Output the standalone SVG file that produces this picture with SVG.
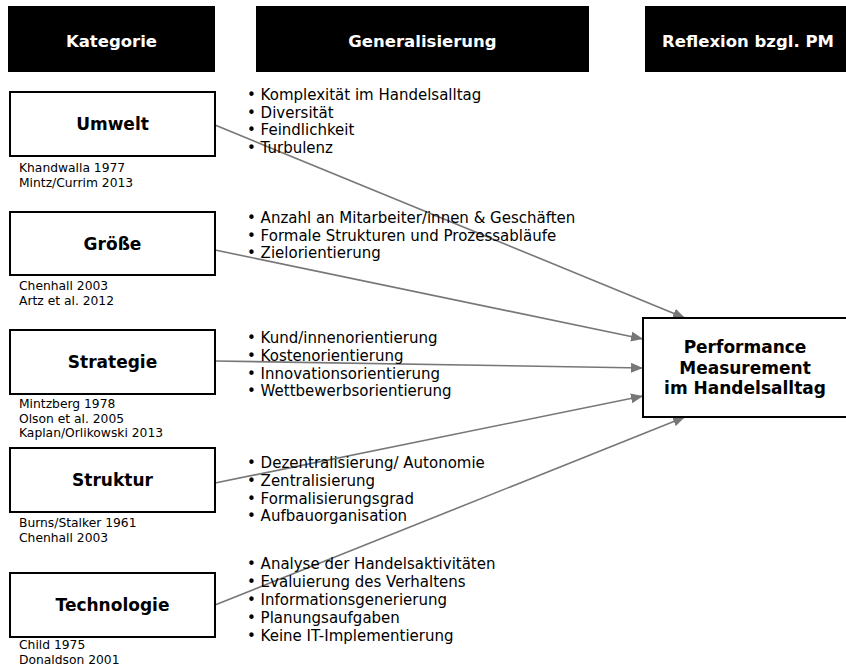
<svg xmlns="http://www.w3.org/2000/svg" width="846" height="669" viewBox="0 0 846 669">
<style>
.hdr{fill:#000}
.hdrt{fill:#fff;font-family:"DejaVu Sans",Verdana,sans-serif;font-weight:bold;font-size:16.5px;text-anchor:middle}
.box{fill:#fff;stroke:#000;stroke-width:2}
.lbl{fill:#000;font-family:"DejaVu Sans",Verdana,sans-serif;font-weight:bold;font-size:17px;text-anchor:middle}
.cit{fill:#000;font-family:"DejaVu Sans",Verdana,sans-serif;font-size:12.3px}
.bul{fill:#000;font-family:"DejaVu Sans",Verdana,sans-serif;font-size:15px}
.con{stroke:#777;stroke-width:1.6;fill:none;marker-end:url(#ah)}
</style>
<defs>
<marker id="ah" viewBox="0 0 12 10" refX="12" refY="5" markerWidth="12" markerHeight="10" markerUnits="userSpaceOnUse" orient="auto">
<path d="M0,0 L12,5 L0,10 Z" fill="#777"/>
</marker>
</defs>
<rect width="846" height="669" fill="#fff"/>

<g id="header-kategorie"><rect class="hdr" x="8" y="6" width="207" height="66"/><text class="hdrt" x="111.5" y="47">Kategorie</text></g>
<g id="header-generalisierung"><rect class="hdr" x="256" y="6" width="333" height="66"/><text class="hdrt" x="422.5" y="47">Generalisierung</text></g>
<g id="header-reflexion"><rect class="hdr" x="645" y="6" width="210" height="66"/><text class="hdrt" x="748" y="47">Reflexion bzgl. PM</text></g>

<g id="connectors">
<line class="con" x1="215" y1="125" x2="685" y2="318"/>
<line class="con" x1="215" y1="250" x2="643" y2="339"/>
<line class="con" x1="215" y1="361" x2="643" y2="368"/>
<line class="con" x1="215" y1="483" x2="643" y2="396"/>
<line class="con" x1="215" y1="605" x2="685" y2="417"/>
</g>

<g id="umwelt">
<rect class="box" x="10" y="92" width="205" height="64"/>
<text class="lbl" x="112.5" y="130">Umwelt</text>
<text class="cit" x="19" y="172">Khandwalla 1977</text>
<text class="cit" x="19" y="187">Mintz/Currim 2013</text>
</g>
<g id="umwelt-gen">
<text class="bul" x="247" y="100">• Komplexität im Handelsalltag</text>
<text class="bul" x="247" y="118">• Diversität</text>
<text class="bul" x="247" y="135">• Feindlichkeit</text>
<text class="bul" x="247" y="153">• Turbulenz</text>
</g>

<g id="groesse">
<rect class="box" x="10" y="212" width="205" height="63"/>
<text class="lbl" x="112.5" y="249.5">Größe</text>
<text class="cit" x="19" y="290">Chenhall 2003</text>
<text class="cit" x="19" y="305">Artz et al. 2012</text>
</g>
<g id="groesse-gen">
<text class="bul" x="247" y="223">• Anzahl an Mitarbeiter/innen &amp; Geschäften</text>
<text class="bul" x="247" y="241">• Formale Strukturen und Prozessabläufe</text>
<text class="bul" x="247" y="258">• Zielorientierung</text>
</g>

<g id="strategie">
<rect class="box" x="10" y="330" width="205" height="64"/>
<text class="lbl" x="112.5" y="368">Strategie</text>
<text class="cit" x="19" y="408">Mintzberg 1978</text>
<text class="cit" x="19" y="422.5">Olson et al. 2005</text>
<text class="cit" x="19" y="437">Kaplan/Orlikowski 2013</text>
</g>
<g id="strategie-gen">
<text class="bul" x="247" y="343">• Kund/innenorientierung</text>
<text class="bul" x="247" y="361">• Kostenorientierung</text>
<text class="bul" x="247" y="378.5">• Innovationsorientierung</text>
<text class="bul" x="247" y="396">• Wettbewerbsorientierung</text>
</g>

<g id="struktur">
<rect class="box" x="10" y="448" width="205" height="64"/>
<text class="lbl" x="112.5" y="486">Struktur</text>
<text class="cit" x="19" y="527">Burns/Stalker 1961</text>
<text class="cit" x="19" y="541.5">Chenhall 2003</text>
</g>
<g id="struktur-gen">
<text class="bul" x="247" y="468">• Dezentralisierung/ Autonomie</text>
<text class="bul" x="247" y="486">• Zentralisierung</text>
<text class="bul" x="247" y="503.5">• Formalisierungsgrad</text>
<text class="bul" x="247" y="521">• Aufbauorganisation</text>
</g>

<g id="technologie">
<rect class="box" x="10" y="573" width="205" height="64"/>
<text class="lbl" x="112.5" y="611">Technologie</text>
<text class="cit" x="19" y="649">Child 1975</text>
<text class="cit" x="19" y="664">Donaldson 2001</text>
</g>
<g id="technologie-gen">
<text class="bul" x="247" y="569">• Analyse der Handelsaktivitäten</text>
<text class="bul" x="247" y="587">• Evaluierung des Verhaltens</text>
<text class="bul" x="247" y="605">• Informationsgenerierung</text>
<text class="bul" x="247" y="623">• Planungsaufgaben</text>
<text class="bul" x="247" y="640.5">• Keine IT-Implementierung</text>
</g>

<g id="performance">
<rect class="box" x="643" y="318" width="215" height="99"/>
<text class="lbl" x="745" y="353">Performance</text>
<text class="lbl" x="745" y="374">Measurement</text>
<text class="lbl" x="745" y="394">im Handelsalltag</text>
</g>
</svg>
